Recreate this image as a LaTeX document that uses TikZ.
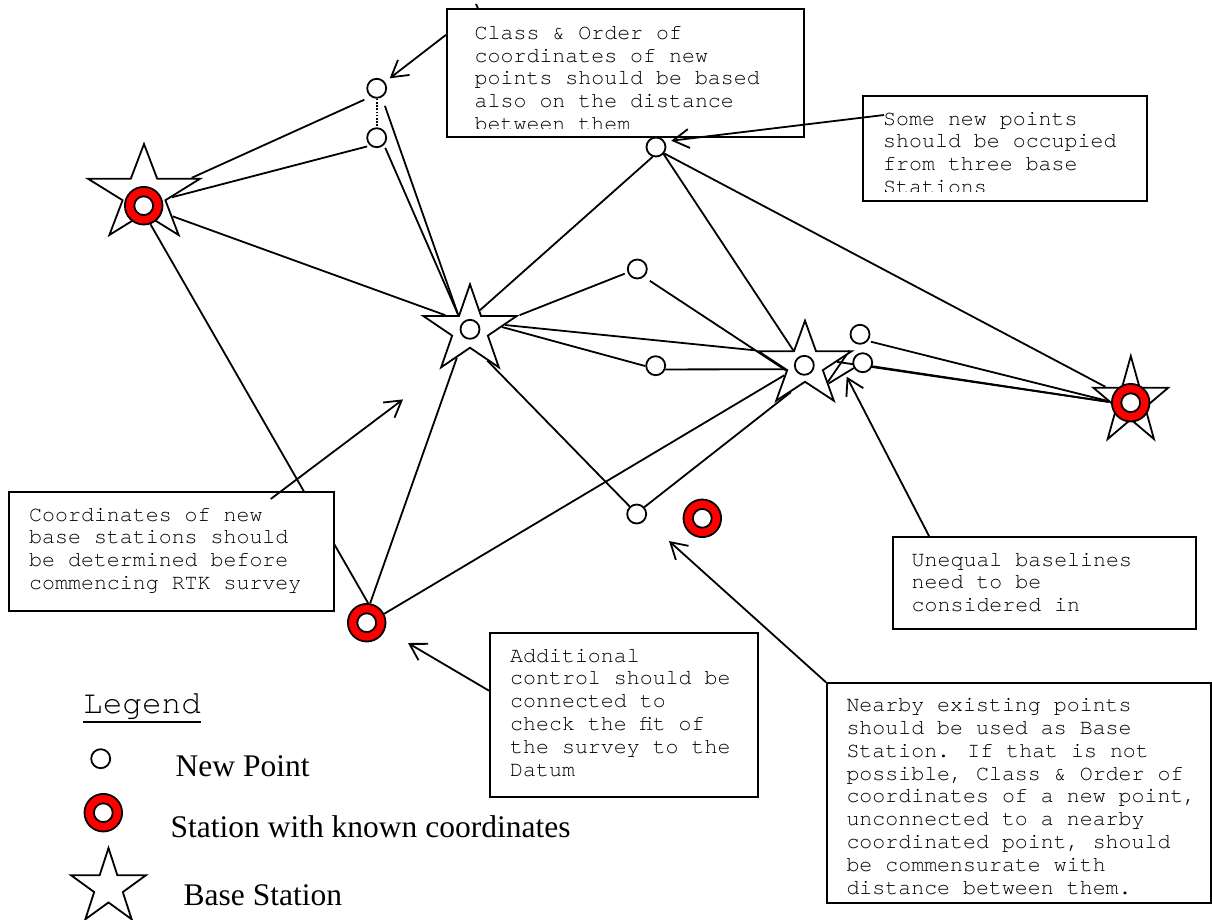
\documentclass[tikz,border=0pt]{standalone}
\usepackage{fontspec}
\setmainfont{Liberation Serif}
\newfontfamily\courfont{TeX Gyre Cursor}
\usetikzlibrary{shapes.geometric,arrows.meta,calc}
\pgfdeclarelayer{bg}
\pgfsetlayers{bg,main}
\newcommand{\btext}[1]{\begin{tabular}[t]{@{}l@{}}#1\end{tabular}}
\begin{document}
\begin{tikzpicture}[x=1pt,y=-1pt,
  conn/.style={line width=1.8pt},
  dotconn/.style={line width=1.6pt,dash pattern=on 1.6pt off 1.6pt},
  newpt/.style={circle,draw,fill=white,line width=1.8pt,minimum size=19pt,inner sep=0pt},
  known/.style={circle,draw,fill=red,line width=1.8pt,minimum size=37.6pt,inner sep=0pt,
     path picture={\draw[fill=white,line width=1.8pt] (path picture bounding box.center) circle[radius=9.4pt];}},
  basestar/.style={star,star points=5,star point ratio=2.618,draw,fill=white,line width=1.8pt,inner sep=0pt},
  cbox/.style={rectangle,draw,fill=white,line width=2pt,inner sep=0pt},
  btxt/.style={anchor=base west,inner sep=0pt,font=\fontsize{21.6}{22.8}\selectfont\courfont},
  callout/.style={line width=1.8pt,-{Straight Barb[length=16pt,width=19pt]}},
  lgtxt/.style={anchor=base west,inner sep=0pt,font=\fontsize{31.5}{36}\selectfont}
]
\useasboundingbox (0,0) rectangle (1212,919);

% ---- stations ----
\node[basestar,minimum size=100.6pt,xscale=1.171] (S1) at (144,194.3) {};
\node[known] (R1) at (143.7,205.7) {};
\node[basestar,minimum size=91.8pt,xscale=1.07] (S2) at (470,330.2) {};
\node[newpt] (C2) at (470,329.3) {};
\node[basestar,minimum size=88.4pt,xscale=1.109] (S3) at (805,364.9) {};
\node[newpt] (C3) at (804.3,365.3) {};
\node[basestar,minimum size=91.8pt,xscale=0.858] (S4) at (1130.8,401.9) {};
\node[known] (R4) at (1130.7,402.7) {};
\node[newpt] (P1) at (376.7,88.3) {};
\node[newpt] (P2) at (376.7,137.7) {};
\node[newpt] (P7) at (656,147) {};
\node[newpt] (P3) at (637.3,269) {};
\node[newpt] (P4) at (655.7,365.7) {};
\node[newpt] (P5) at (860,334.3) {};
\node[newpt] (P6) at (862.7,362.7) {};
\node[newpt] (P8) at (636.7,514) {};
\node[known] (R2) at (702.3,518.3) {};
\node[known] (R3) at (366.7,622.7) {};

% ---- free arrow ends ----
\coordinate (A3t) at (403,399.4);
\coordinate (A4t) at (846.7,376.7);
\coordinate (A5t) at (669,541);
\coordinate (A6t) at (408,643);
\coordinate (tk1) at (476,4);
\coordinate (tk2) at (481,15);

% ---- boxes ----
\node[cbox,minimum width=357pt,minimum height=128pt] (B1) at (625.5,73) {};
\node[cbox,minimum width=284pt,minimum height=105.5pt] (B2) at (1005,148.25) {};
\node[cbox,minimum width=325pt,minimum height=119pt] (B3) at (171.5,551.5) {};
\node[cbox,minimum width=303pt,minimum height=92pt] (B4) at (1044.5,583) {};
\node[cbox,minimum width=383.5pt,minimum height=219.7pt] (B5) at (1018.75,793.15) {};
\node[cbox,minimum width=268pt,minimum height=164pt] (B6) at (624,715) {};

\begin{scope}
\clip (B1.north west) rectangle ($(B1.south east)+(0,-10)$);
\node[btxt] (T1) at (474.5,39.2) {\btext{Class \& Order of\\coordinates of new\\points should be based\\also on the distance\\between them}};
\end{scope}
\begin{scope}
\clip (B2.north west) rectangle ($(B2.south east)+(0,-11)$);
\node[btxt] (T2) at (883,125) {\btext{Some new points\\should be occupied\\from three base\\Stations}};
\end{scope}
\node[btxt] (T3) at (29,521) {\btext{Coordinates of new\\base stations should\\be determined before\\commencing RTK survey}};
\node[btxt] (T4) at (911.5,566) {\btext{Unequal baselines\\need to be\\considered in}};
\node[btxt] (T5) at (846.3,711.7) {\btext{Nearby existing points\\should be used as Base\\Station. If that is not\\possible, Class \& Order of\\coordinates of a new point,\\unconnected to a nearby\\coordinated point, should\\be commensurate with\\distance between them.}};
\node[btxt] (T6) at (510,662) {\btext{Additional\\control should be\\connected to\\check the fit of\\the survey to the\\Datum}};

% ---- connectors ----
\begin{pgfonlayer}{bg}
\draw[conn] (tk1) -- (tk2);
\draw[conn,shorten >=7pt] (S1.22) -- (P1.235);
\draw[conn,shorten >=3pt] (S1.-7) -- (P2.230);
\draw[conn] (S1.-42) -- (S2.147);
\draw[conn] (R1.-70) -- (R3.86);
\draw[conn,shorten <=9pt] (P1.-60) -- (S2.126);
\draw[conn,shorten <=3pt] (P2.-45) -- (S2.126);
\draw[dotconn] (P1) -- (P2);
\draw[conn] (P7.-109) -- (S2.65);
\draw[conn] (P7.-43) -- (S3.126);
\draw[conn] (P7.-38) -- (S4.153);
\draw[conn,shorten <=3pt] (P3.200) -- (S2.18);
\draw[conn,shorten <=7pt] (P3.-50) -- (S3.198);
\draw[conn] (S2.9) -- (S3.162);
\draw[conn] (S2.6) -- (P4.182);
\draw[conn] (S2.-114) -- (R3.80);
\draw[conn] (S2.-62) -- (P8.133);
\draw[conn] (R3.27) -- (S3.209);
\draw[conn] (P4.-21) -- (S3.193);
\draw[conn] (P8.42) -- (S3.245);
\draw[conn] (S3.6) -- (S4.180);
\draw[conn] (P6.-20) -- (S4.180);
\draw[conn,shorten <=3pt] (P5.-40) -- (S4.178);
\draw[conn,shorten <=9pt] (P5.-122) -- (S3.-39);
\draw[conn] (P6.211) -- (S3.-41);
\end{pgfonlayer}

% ---- callouts ----
\draw[callout,shorten >=6pt] (B1.168) -- (P1);
\draw[callout,shorten >=6.5pt] ($(B2.north west)+(22,20.5)$) -- (P7.32);
\draw[callout] ($(B3.north west)+(262.7,8)$) -- (A3t);
\draw[callout] ($(B4.north west)+(37,0)$) -- (A4t);
\draw[callout] (B5.north west) -- (A5t);
\draw[callout] ($(B6.north west)+(0,58.7)$) -- (A6t);

% ---- legend ----
\node[lgtxt,font=\fontsize{32.7}{36}\selectfont\courfont] (LG) at (83,713.3) {Legend};
\draw[line width=2pt] ($(LG.base west)+(0,8.4)$) -- ($(LG.base east)+(0,8.4)$);
\node[newpt] (L1) at (100.7,758.7) {};
\node[known] (L2) at (103.3,812.7) {};
\node[basestar,minimum size=78.8pt] (L3) at (108.5,887.4) {};
\node[lgtxt] (LT1) at (175.5,776) {New Point};
\node[lgtxt] (LT2) at (170.5,837.3) {Station with known coordinates};
\node[lgtxt] (LT3) at (183.5,905.9) {Base Station};
\end{tikzpicture}
\end{document}
